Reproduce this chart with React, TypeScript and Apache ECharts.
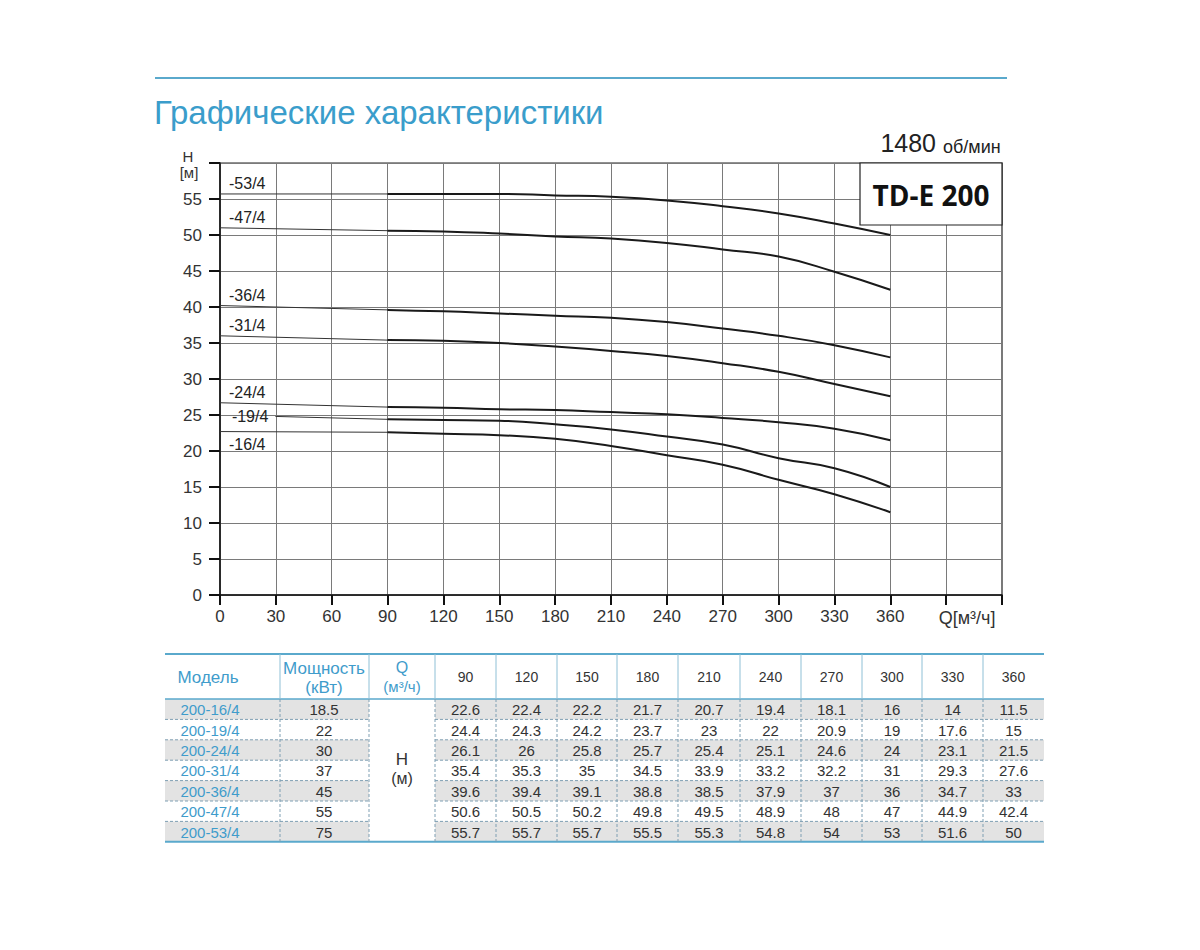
import React, { useEffect, useRef } from "react";
import * as echarts from "echarts";

// ---------- data ----------
const flowQ = [90, 120, 150, 180, 210, 240, 270, 300, 330, 360];
const models = ["200-16/4", "200-19/4", "200-24/4", "200-31/4", "200-36/4", "200-47/4", "200-53/4"];
const curveLabels = ["-16/4", "-19/4", "-24/4", "-31/4", "-36/4", "-47/4", "-53/4"];
const powers = ["18.5", "22", "30", "37", "45", "55", "75"];
const head16 = [22.6, 22.4, 22.2, 21.7, 20.7, 19.4, 18.1, 16, 14, 11.5];
const head19 = [24.4, 24.3, 24.2, 23.7, 23, 22, 20.9, 19, 17.6, 15];
const head24 = [26.1, 26, 25.8, 25.7, 25.4, 25.1, 24.6, 24, 23.1, 21.5];
const head31 = [35.4, 35.3, 35, 34.5, 33.9, 33.2, 32.2, 31, 29.3, 27.6];
const head36 = [39.6, 39.4, 39.1, 38.8, 38.5, 37.9, 37, 36, 34.7, 33];
const head47 = [50.6, 50.5, 50.2, 49.8, 49.5, 48.9, 48, 47, 44.9, 42.4];
const head53 = [55.7, 55.7, 55.7, 55.5, 55.3, 54.8, 54, 53, 51.6, 50];
const heads = [head16, head19, head24, head31, head36, head47, head53];
// lead-in segment before Q = 90
const leadQ = [0, 30, 0, 0, 0, 0, 0];
const leadH = [22.7, 24.8, 26.7, 36.0, 40.2, 51.0, 55.7];
const labelPlace = ["below", "left", "above", "above", "above", "above", "above"];

// ---------- layout ----------
const W = 1200, H = 950;
const GL = 220, GR = 1002, GT = 163, GB = 595;
const BLUE = "#3f9ccb";
const LINEBLUE = "#5aa9cc";
const FONT = "Liberation Sans, Arial, sans-serif";

const colX = [165, 280, 369, 435, 496, 557, 617, 678, 740, 801, 862, 922, 983, 1044];
const tTop = 654, tHead = 699, rowH = 20.4;

function txt(x: number, y: number, text: string, size: number, fill: string, extra: any = {}) {
  return {
    type: "text",
    x,
    y,
    z: 100,
    style: {
      text,
      fill,
      fontSize: size,
      fontFamily: FONT,
      align: "center",
      verticalAlign: "middle",
      textAlign: "center",
      textVerticalAlign: "middle",
      ...extra,
    },
  };
}
function ln(x1: number, y1: number, x2: number, y2: number, stroke: string, lineWidth: number, dash?: number[]) {
  return {
    type: "line",
    z: 100,
    shape: { x1, y1, x2, y2 },
    style: { stroke, lineWidth, lineDash: dash || null },
  };
}

function buildTable(): any[] {
  const els: any[] = [];
  const tBottom = tHead + rowH * models.length;
  models.forEach((_, i) => {
    if (i % 2 === 0) {
      const y = tHead + rowH * i;
      els.push({ type: "rect", z: 99, shape: { x: colX[0], y, width: colX[2] - colX[0], height: rowH }, style: { fill: "#e3e3e3" } });
      els.push({ type: "rect", z: 99, shape: { x: colX[3], y, width: colX[13] - colX[3], height: rowH }, style: { fill: "#e3e3e3" } });
    }
  });
  els.push(ln(colX[0], tTop, colX[13], tTop, LINEBLUE, 2));
  els.push(ln(colX[0], tHead, colX[13], tHead, LINEBLUE, 1.5));
  els.push(ln(colX[0], tBottom, colX[13], tBottom, LINEBLUE, 2));
  for (let c = 1; c < 13; c++) {
    els.push(ln(colX[c], tTop, colX[c], tHead, "#8fc0d6", 1));
    els.push(ln(colX[c], tHead, colX[c], tBottom, "#7f9fb3", 1, [3, 2]));
  }
  for (let r = 1; r < models.length; r++) {
    const y = tHead + rowH * r;
    els.push(ln(colX[0], y, colX[2], y, "#7f9fb3", 1, [3, 2]));
    els.push(ln(colX[3], y, colX[13], y, "#7f9fb3", 1, [3, 2]));
  }
  els.push(txt(208, 677, "Модель", 17, BLUE));
  els.push(txt(324, 668, "Мощность", 17, BLUE));
  els.push(txt(324, 687, "(кВт)", 17, BLUE));
  els.push(txt(402, 667, "Q", 16, BLUE));
  els.push(txt(402, 686, "(м³/ч)", 15, BLUE));
  flowQ.forEach((q, j) => {
    els.push(txt((colX[3 + j] + colX[4 + j]) / 2, 677, String(q), 14, "#333"));
  });
  models.forEach((m, i) => {
    const y = tHead + rowH * (i + 0.5) + 0.5;
    els.push(txt(210, y, m, 15, BLUE));
    els.push(txt(324, y, powers[i], 15, "#333"));
    heads[i].forEach((v, j) => {
      els.push(txt((colX[3 + j] + colX[4 + j]) / 2, y, String(v), 15, "#333"));
    });
  });
  els.push(txt(402, 759, "H", 17, "#333"));
  els.push(txt(402, 778, "(м)", 16, "#333"));
  return els;
}

function labelFor(place: string, text: string) {
  const base = { show: true, formatter: text, fontSize: 16, fontFamily: FONT, color: "#222" };
  if (place === "left") return { ...base, position: "left", distance: 7 };
  if (place === "below") return { ...base, position: "bottom", distance: 4, align: "left", offset: [9, 0] };
  return { ...base, position: "top", distance: 2, align: "left", offset: [9, 0] };
}

export default function App() {
  const ref = useRef<HTMLDivElement>(null);
  useEffect(() => {
    if (!ref.current) return;
    const chart = echarts.init(ref.current, null, { renderer: "svg", width: W, height: H });

    const series: any[] = [];
    heads.forEach((h, i) => {
      series.push({
        type: "line",
        name: "lead" + i,
        symbol: "circle",
        symbolSize: 1,
        showSymbol: true,
        itemStyle: { color: "#333" },
        lineStyle: { color: "#333", width: 1 },
        data: [
          { value: [leadQ[i], leadH[i]], label: labelFor(labelPlace[i], curveLabels[i]) },
          { value: [90, h[0]] },
        ],
        silent: true,
        z: 3,
      });
      series.push({
        type: "line",
        name: models[i],
        symbol: "none",
        smooth: 0.5,
        lineStyle: { color: "#1a1a1a", width: 2 },
        data: flowQ.map((q, j) => [q, h[j]]),
        silent: true,
        z: 4,
      });
    });

    const graphic: any[] = [
      ln(155, 78, 1007, 78, LINEBLUE, 2),
      txt(154, 112, "Графические характеристики", 33, "#3a9dcb", { align: "left", textAlign: "left" }),
      txt(936, 143, "1480", 25, "#222", { align: "right", textAlign: "right" }),
      txt(943, 147, "об/мин", 18, "#222", { align: "left", textAlign: "left" }),
      {
        type: "rect",
        z: 100,
        shape: { x: 860, y: GT, width: GR - 860, height: 62 },
        style: { fill: "#fff", stroke: "#222", lineWidth: 1.2 },
      },
      txt(931, 195, "TD-E 200", 28, "#111", { fontFamily: "Open Sans, sans-serif", fontWeight: "bold" }),
      txt(188, 156, "H", 15, "#333"),
      txt(189, 172, "[м]", 15, "#333"),
      txt(967, 618, "Q[м³/ч]", 18, "#333"),
      ...buildTable(),
    ];

    chart.setOption({
      animation: false,
      backgroundColor: "#fff",
      grid: {
        left: GL,
        right: W - GR,
        top: GT,
        bottom: H - GB,
        show: true,
        borderColor: "#222",
        borderWidth: 1.2,
        containLabel: false,
      },
      xAxis: {
        type: "value",
        min: 0,
        max: 420,
        interval: 30,
        axisLine: { show: true, lineStyle: { color: "#111", width: 1.5 } },
        axisTick: { show: true, inside: false, length: 10, lineStyle: { color: "#111", width: 2 } },
        splitLine: { show: true, lineStyle: { color: "#7a7a7a", width: 1 } },
        axisLabel: {
          margin: 13,
          fontSize: 17,
          fontFamily: FONT,
          color: "#333",
          formatter: (v: number) => (v > 360 ? "" : String(v)),
        },
      },
      yAxis: {
        type: "value",
        min: 0,
        max: 60,
        interval: 5,
        axisLine: { show: true, lineStyle: { color: "#111", width: 1.5 } },
        axisTick: { show: true, inside: false, length: 11, lineStyle: { color: "#111", width: 2 } },
        splitLine: { show: true, lineStyle: { color: "#7a7a7a", width: 1 } },
        axisLabel: {
          margin: 18,
          fontSize: 17,
          fontFamily: FONT,
          color: "#333",
          formatter: (v: number) => (v >= 60 ? "" : String(v)),
        },
      },
      series,
      graphic,
    });
    return () => chart.dispose();
  }, []);
  return <div ref={ref} style={{ position: "absolute", left: 0, top: 0, width: W, height: H }} />;
}
